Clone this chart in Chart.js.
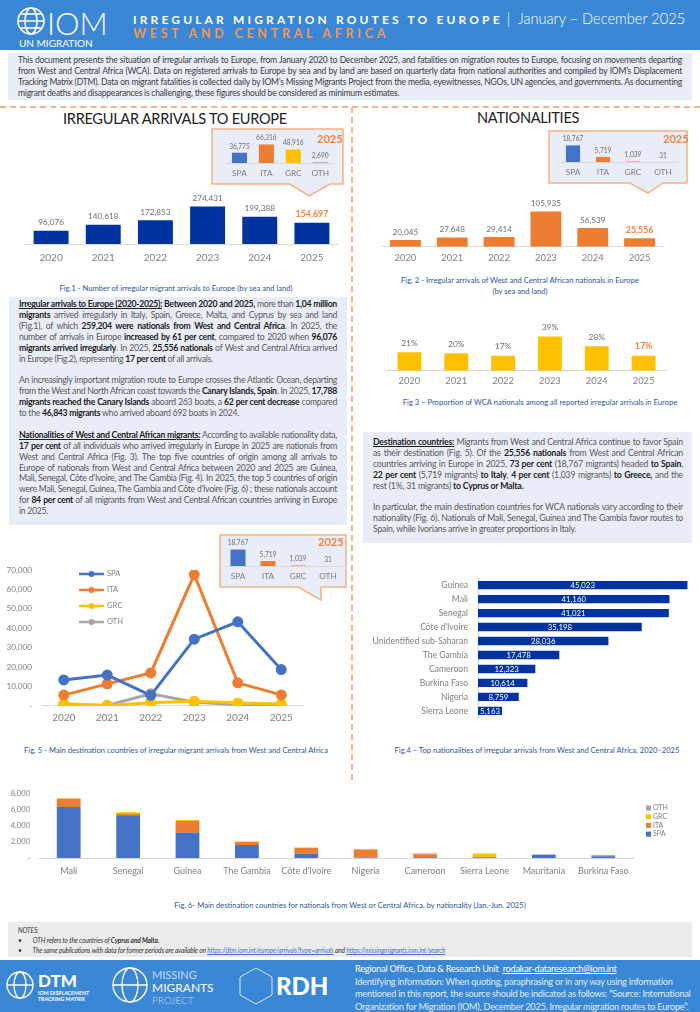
<!DOCTYPE html>
<html>
<head>
<meta charset="utf-8">
<script src="https://cdn.jsdelivr.net/npm/chart.js@4.4.1/dist/chart.umd.min.js"></script>
<style>
  body { margin:0; width:700px; height:1012px; position:relative; overflow:hidden; background:#fff; font-family:Lato, "Open Sans", sans-serif; }
  .abs { position:absolute; }
  .box { background:#e9edf7; box-sizing:border-box; color:#595959; text-align:justify; }
  .box b { color:#1e1e1e; font-weight:700; }
  .box p { margin:0; }
  .cap { color:#2f5597; font-size:7.6px; text-align:center; white-space:nowrap; }
  .sect { color:#222; font-size:14.6px; white-space:nowrap; }
  .yr { color:#f4823a; font-weight:700; font-size:11px; }
  canvas { display:block; }
</style>
</head>
<body>

<!-- header -->
<div class="abs" style="left:0;top:0;width:700px;height:50px;background:#3a87d6;"></div>
<svg class="abs" style="left:0;top:0" width="120" height="50">
  <g fill="none" stroke="#fff" stroke-width="1.6">
    <circle cx="31" cy="21" r="13"/>
    <ellipse cx="31" cy="21" rx="6" ry="13"/>
    <line x1="18" y1="21" x2="44" y2="21"/>
    <line x1="20" y1="14" x2="42" y2="14"/>
    <line x1="20" y1="28" x2="42" y2="28"/>
  </g>
  <text x="47" y="35" fill="#fff" font-size="31" font-family="Lato" font-weight="300">IOM</text>
  <text x="19" y="47" fill="#fff" font-size="10" font-family="Lato">UN MIGRATION</text>
</svg>
<div class="abs" style="left:133px;top:10px;color:#fff;font-weight:700;font-size:12px;letter-spacing:3.15px;white-space:nowrap;">IRREGULAR MIGRATION ROUTES TO EUROPE<span style="font-weight:300;letter-spacing:0;font-size:14.6px;"> | &nbsp;January – December 2025</span></div>
<div class="abs" style="left:133px;top:26px;color:#f5964f;font-weight:700;font-size:12.4px;letter-spacing:3.8px;white-space:nowrap;">WEST AND CENTRAL AFRICA</div>

<!-- intro -->
<div class="abs box" style="left:8px;top:53px;width:684px;height:47px;padding:2px 10px;font-size:8.55px;line-height:11px;letter-spacing:-0.22px;color:#404040;">This document presents the situation of irregular arrivals to Europe, from January 2020 to December 2025, and fatalities on migration routes to Europe, focusing on movements departing from West and Central Africa (WCA). Data on registered arrivals to Europe by sea and by land are based on quarterly data from national authorities and compiled by IOM’s Displacement Tracking Matrix (DTM). Data on migrant fatalities is collected daily by IOM’s Missing Migrants Project from the media, eyewitnesses, NGOs, UN agencies, and governments. As documenting migrant deaths and disappearances is challenging, these figures should be considered as minimum estimates.</div>

<!-- dashed separators -->
<div class="abs" style="left:0;top:106px;width:700px;border-top:2px dashed #f6b48a;"></div>
<div class="abs" style="left:351px;top:107px;height:673px;border-left:2px dashed #f6b48a;"></div>

<!-- section titles -->
<div class="abs sect" style="left:63px;top:110px;letter-spacing:-0.3px;">IRREGULAR ARRIVALS TO EUROPE</div>
<div class="abs sect" style="left:477px;top:109px;letter-spacing:-0.3px;">NATIONALITIES</div>

<!-- callout boxes -->
<svg class="abs" style="left:0;top:0;z-index:1" width="700" height="620">
  <g fill="#e8edf8" stroke="#f4b183" stroke-width="1.5">
    <path d="M212 129 H343 V184 H330 L309 196 L290 184 H212 Z"/>
    <path d="M549 131 H687 V183 H663 L648 193 L630 183 H549 Z"/>
    <path d="M220 535 H346 V587 H321 V600 L298 587 H220 Z"/>
  </g>
</svg>
<div class="abs yr" style="left:317px;top:132px;z-index:3">2025</div>
<div class="abs yr" style="left:663px;top:132px;z-index:3">2025</div>
<div class="abs yr" style="left:318px;top:535px;z-index:3">2025</div>

<!-- chart containers -->
<div class="abs" style="left:25px;top:180px;width:313px;height:92px;"><canvas id="fig1"></canvas></div>
<div class="abs" style="left:226px;top:128px;width:108px;height:55px;z-index:2"><canvas id="fig1in"></canvas></div>
<div class="abs cap" style="left:0;top:283px;width:352px;">Fig.1 - Number of irregular migrant arrivals to Europe (by sea and land)</div>

<div class="abs" style="left:382px;top:188px;width:281px;height:82px;"><canvas id="fig2"></canvas></div>
<div class="abs" style="left:558px;top:129px;width:120px;height:53px;z-index:2"><canvas id="fig2in"></canvas></div>
<div class="abs cap" style="left:352px;top:275px;width:336px;line-height:11px;">Fig. 2 - Irregular arrivals of West and Central African nationals in Europe<br>(by sea and land)</div>

<div class="abs" style="left:386px;top:308px;width:281px;height:84px;"><canvas id="fig3"></canvas></div>
<div class="abs cap" style="left:352px;top:397px;width:376px;">Fig 3 – Proportion of WCA nationals among all reported irregular arrivals in Europe</div>

<!-- left text -->
<div class="abs box" style="left:9px;top:297px;width:338px;height:228px;padding:2px 10px 0 10px;font-size:8.7px;line-height:10.9px;letter-spacing:-0.3px;">
<p><b><u>Irregular arrivals to Europe (2020-2025):</u> Between 2020 and 2025,</b> more than <b>1,04 million migrants</b> arrived irregularly in Italy, Spain, Greece, Malta, and Cyprus by sea and land (Fig.1), of which <b>259,204 were nationals from West and Central Africa</b>. In 2025, the number of arrivals in Europe <b>increased by 61 per cent</b>, compared to 2020 when <b>96,076 migrants arrived irregularly</b>. In 2025, <b>25,556 nationals</b> of West and Central Africa arrived in Europe (Fig.2), representing <b>17 per cent</b> of all arrivals.</p>
<p style="margin-top:10.9px">An increasingly important migration route to Europe crosses the Atlantic Ocean, departing from the West and North African coast towards the <b>Canary Islands, Spain</b>. In 2025, <b>17,788 migrants reached the Canary Islands</b> aboard 263 boats, a <b>62 per cent decrease</b> compared to the <b>46,843 migrants</b> who arrived aboard 692 boats in 2024.</p>
<p style="margin-top:10.9px"><b><u>Nationalities of West and Central African migrants:</u></b> According to available nationality data, <b>17 per cent</b> of all individuals who arrived irregularly in Europe in 2025 are nationals from West and Central Africa (Fig. 3). The top five countries of origin among all arrivals to Europe of nationals from West and Central Africa between 2020 and 2025 are Guinea, Mali, Senegal, Côte d’Ivoire, and The Gambia (Fig. 4). In 2025, the top 5 countries of origin were Mali, Senegal, Guinea, The Gambia and Côte d’Ivoire (Fig. 6) ; these nationals account for <b>84 per cent</b> of all migrants from West and Central African countries arriving in Europe in 2025.</p>
</div>

<!-- right text -->
<div class="abs box" style="left:363px;top:432px;width:329px;height:111px;padding:5px 9px 0 10px;font-size:8.7px;line-height:10.9px;letter-spacing:-0.2px;">
<p><b><u>Destination countries:</u></b> Migrants from West and Central Africa continue to favor Spain as their destination (Fig. 5). Of the <b>25,556 nationals</b> from West and Central African countries arriving in Europe in 2025, <b>73 per cent</b> (18,767 migrants) headed <b>to Spain</b>, <b>22 per cent</b> (5,719 migrants) <b>to Italy</b>, <b>4 per cent</b> (1,039 migrants) <b>to Greece,</b> and the rest (1%, 31 migrants) <b>to Cyprus or Malta.</b></p>
<p style="margin-top:10.9px">In particular, the main destination countries for WCA nationals vary according to their nationality (Fig. 6). Nationals of Mali, Senegal, Guinea and The Gambia favor routes to Spain, while Ivorians arrive in greater proportions in Italy.</p>
</div>

<div class="abs" style="left:4px;top:555px;width:306px;height:175px;"><canvas id="fig5"></canvas></div>
<div class="abs" style="left:223px;top:535px;width:120px;height:50px;z-index:2"><canvas id="fig5in"></canvas></div>
<div class="abs cap" style="left:0;top:745px;width:352px;">Fig. 5 - Main destination countries of irregular migrant arrivals from West and Central Africa</div>

<div class="abs" style="left:355px;top:563px;width:337px;height:170px;"><canvas id="fig4"></canvas></div>
<div class="abs cap" style="left:352px;top:745px;width:370px;">Fig.4 – Top nationalities of irregular arrivals from West and Central Africa, 2020–2025</div>

<div class="abs" style="left:0;top:780px;width:700px;height:103px;"><canvas id="fig6"></canvas></div>
<div class="abs cap" style="left:0;top:900px;width:700px;">Fig. 6- Main destination countries for nationals from West or Central Africa, by nationality (Jan.-Jun. 2025)</div>

<!-- notes -->
<div class="abs" style="left:8px;top:922px;width:684px;height:35px;background:#ececec;font-size:6.6px;font-style:italic;color:#333;line-height:10px;padding:3px 10px;box-sizing:border-box;letter-spacing:-0.15px;">
  <div>NOTES:</div>
  <div>•&nbsp;&nbsp;&nbsp;&nbsp;&nbsp;&nbsp;&nbsp;&nbsp;OTH refers to the countries of <b>Cyprus and Malta.</b></div>
  <div>•&nbsp;&nbsp;&nbsp;&nbsp;&nbsp;&nbsp;&nbsp;&nbsp;The same publications with data for former periods are available on <u style="color:#4472c4">https://dtm.iom.int/europe/arrivals?type=arrivals</u> and <u style="color:#4472c4">https://missingmigrants.iom.int/search</u></div>
</div>

<!-- footer -->
<div class="abs" style="left:0;top:960px;width:700px;height:52px;background:#3a87d6;"></div>
<svg class="abs" style="left:0;top:960px" width="350" height="52">
  <g fill="none" stroke="#fff" stroke-width="1.4">
    <circle cx="20" cy="25" r="13"/><ellipse cx="20" cy="25" rx="6" ry="13"/><line x1="7" y1="25" x2="33" y2="25"/>
    <circle cx="130" cy="25" r="17"/><ellipse cx="130" cy="25" rx="8" ry="17"/><line x1="113" y1="25" x2="147" y2="25"/>
    <path d="M256 8 L272 17 L272 35 L256 44 L240 35 L240 17 Z" stroke-width="0.8"/>
  </g>
  <text x="38" y="27" fill="#fff" font-size="17" font-weight="900" font-family="Lato">DTM</text>
  <text x="38" y="35" fill="#fff" font-size="5.2" font-weight="700" font-family="Lato">IOM DISPLACEMENT</text>
  <text x="38" y="41" fill="#fff" font-size="5.2" font-weight="700" font-family="Lato">TRACKING MATRIX</text>
  <text x="152" y="19" fill="#c9d6f2" font-size="11" font-family="Lato">MISSING</text>
  <text x="152" y="32" fill="#fff" font-size="12" font-family="Lato">MIGRANTS</text>
  <text x="152" y="44" fill="#c9d6f2" font-size="10" font-weight="300" font-family="Lato">PROJECT</text>
  <text x="276" y="35" fill="#fff" font-size="24" font-weight="900" font-family="Lato">RDH</text>
</svg>
<div class="abs" style="left:355px;top:963px;width:342px;color:#fff;font-size:9.2px;line-height:12.6px;letter-spacing:-0.25px;">Regional Office, Data &amp; Research Unit &nbsp;<u>rodakar-dataresearch@iom.int</u><br><span style="opacity:.85">Identifying information: When quoting, paraphrasing or in any way using information mentioned in this report, the source should be indicated as follows: “Source: International Organization for Migration (IOM), December 2025. Irregular migration routes to Europe”.</span></div>

<script>
const years = ['2020', '2021', '2022', '2023', '2024', '2025'];
const arrivalsTotal = [96076, 140618, 172853, 274431, 199388, 154697];
const arrivalsWca = [20045, 27648, 29414, 105935, 56539, 25556];
const wcaShare = [21, 20, 17, 39, 28, 17];

const destCodes = ['SPA', 'ITA', 'GRC', 'OTH'];
const dest2025All = [36775, 66316, 48916, 2690];
const dest2025Wca = [18767, 5719, 1039, 31];

// Fig 5 - arrivals of WCA nationals by destination
const spaByYear = [13400, 15900, 5500, 34400, 43300, 18767];
const itaByYear = [5600, 11400, 17000, 67600, 11900, 5719];
const grcByYear = [1100, 300, 1700, 2500, 1600, 1039];
const othByYear = [600, 300, 6300, 2000, 600, 31];

const topNationalities = ['Guinea', 'Mali', 'Senegal', 'Côte d\'Ivoire', 'Unidentified sub-Saharan', 'The Gambia', 'Cameroon', 'Burkina Faso', 'Nigeria', 'Sierra Leone'];
const topNationalityValues = [45023, 41160, 41021, 35198, 28036, 17478, 12323, 10614, 8759, 5163];

// Fig 6 - 2025 by nationality and destination (estimated)
const countries2025 = ['Mali', 'Senegal', 'Guinea', 'The Gambia', 'Côte d\'Ivoire', 'Nigeria', 'Cameroon', 'Sierra Leone', 'Mauritania', 'Burkina Faso'];
const spa2025 = [6330, 5330, 3150, 1630, 560, 80, 130, 80, 430, 230];
const ita2025 = [1020, 170, 1450, 370, 700, 1000, 350, 60, 20, 120];
const grc2025 = [60, 180, 130, 60, 40, 30, 120, 440, 0, 30];
const oth2025 = [10, 10, 10, 10, 10, 0, 20, 0, 0, 0];

const colSpa = '#4472c4', colIta = '#ed7d31', colGrc = '#ffc000', colOth = '#a5a5a5';
const destColors = [colSpa, colIta, colGrc, colOth];
const grey = '#7f7f7f';
const orange = '#f4823a';

Chart.defaults.font.family = 'Lato, "Open Sans", sans-serif';
Chart.defaults.animation = false;
Chart.defaults.plugins.legend.display = false;
Chart.defaults.plugins.tooltip.enabled = false;
Chart.defaults.responsive = true;
Chart.defaults.maintainAspectRatio = false;

const fmt = v => v.toLocaleString('en-US');

// etiquetas de valor sobre las barras
function valueLabels(cfg) {
    return {
        id: 'valueLabels',
        afterDatasetsDraw(chart) {
            const ctx = chart.ctx;
            const meta = chart.getDatasetMeta(0);
            const vals = chart.data.datasets[0].data;
            ctx.save();
            ctx.textAlign = 'center';
            ctx.textBaseline = 'bottom';
            meta.data.forEach((bar, i) => {
                const hl = cfg.highlight === i;
                ctx.font = (hl ? '700 ' : '') + (hl ? cfg.size + 0.6 : cfg.size) + 'px Lato';
                ctx.fillStyle = hl ? orange : cfg.color;
                ctx.fillText(cfg.format(vals[i]), bar.x, bar.y - cfg.offset);
            });
            ctx.restore();
        }
    };
}

function barChart(id, labels, data, colors, opts) {
    return new Chart(document.getElementById(id), {
        type: 'bar',
        data: { labels, datasets: [{ data, backgroundColor: colors, categoryPercentage: 1, barPercentage: opts.bar }] },
        options: {
            layout: { padding: { top: opts.padTop, left: 0, right: 0, bottom: 0 } },
            scales: {
                x: {
                    grid: { display: false, drawTicks: false },
                    border: { color: '#d9d9d9' },
                    ticks: { color: grey, font: { size: opts.tickSize }, padding: opts.tickPad, maxRotation: 0 }
                },
                y: { display: false, min: 0, max: opts.max }
            }
        },
        plugins: [valueLabels({ size: opts.valSize, color: '#6f6f6f', offset: opts.valOffset, format: opts.format || fmt, highlight: opts.highlight })]
    });
}

// Fig 1
barChart('fig1', years, arrivalsTotal, '#0033a0', { bar: 0.67, padTop: 12, max: 380000, tickSize: 10, tickPad: 8, valSize: 8.2, valOffset: 4, highlight: 5 });
barChart('fig1in', destCodes, dest2025All, destColors, { bar: 0.56, padTop: 12, max: 82900, tickSize: 8.3, tickPad: 5, valSize: 6.6, valOffset: 3 });

// Fig 2
barChart('fig2', years, arrivalsWca, '#ed7d31', { bar: 0.66, padTop: 12, max: 141000, tickSize: 9.4, tickPad: 6, valSize: 8.2, valOffset: 4, highlight: 5 });
barChart('fig2in', destCodes, dest2025Wca, destColors, { bar: 0.47, padTop: 12, max: 23700, tickSize: 8.3, tickPad: 5, valSize: 6.6, valOffset: 3 });

// Fig 3
barChart('fig3', years, wcaShare, '#ffc000', { bar: 0.51, padTop: 12, max: 58, tickSize: 9.4, tickPad: 5, valSize: 8.4, valOffset: 5, highlight: 5, format: v => v + '%' });

// Fig 5 inset
barChart('fig5in', destCodes, dest2025Wca, destColors, { bar: 0.5, padTop: 12, max: 21730, tickSize: 8.3, tickPad: 5, valSize: 6.6, valOffset: 3 });

// Fig 5 - lineas por destino
const lineLegend = {
    id: 'lineLegend',
    afterDraw(chart) {
        const ctx = chart.ctx;
        ctx.save();
        chart.data.datasets.forEach((ds, i) => {
            const y = 19 + i * 16;
            ctx.strokeStyle = ds.borderColor;
            ctx.lineWidth = 2.5;
            ctx.beginPath(); ctx.moveTo(75, y); ctx.lineTo(100, y); ctx.stroke();
            ctx.fillStyle = ds.borderColor;
            ctx.beginPath(); ctx.arc(87.5, y, 3, 0, Math.PI * 2); ctx.fill();
            ctx.fillStyle = grey;
            ctx.font = '7.5px Lato';
            ctx.textBaseline = 'middle';
            ctx.fillText(ds.label, 103, y);
        });
        ctx.restore();
    }
};

const lineSeries = [['SPA', spaByYear, colSpa], ['ITA', itaByYear, colIta], ['GRC', grcByYear, colGrc], ['OTH', othByYear, colOth]];
new Chart(document.getElementById('fig5'), {
    type: 'line',
    data: {
        labels: years,
        datasets: lineSeries.map(([label, data, c]) => ({
            label, data, borderColor: c, backgroundColor: c, pointBackgroundColor: c,
            borderWidth: 3, pointRadius: 4, tension: 0
        }))
    },
    options: {
        layout: { padding: { top: 11, right: 0 } },
        scales: {
            x: {
                offset: true,
                grid: { display: false, drawTicks: false },
                border: { color: '#d9d9d9' },
                ticks: { color: grey, font: { size: 10 }, padding: 6 }
            },
            y: {
                min: 0, max: 70000,
                grid: { display: false, drawTicks: false },
                border: { display: false },
                afterFit: s => { s.width = 38; },
                ticks: { stepSize: 10000, color: grey, font: { size: 8.2 }, padding: 10, callback: v => v === 0 ? '-' : fmt(v) }
            }
        }
    },
    plugins: [lineLegend]
});

// Fig 4 - barras horizontales
const insideLabels = {
    id: 'insideLabels',
    afterDatasetsDraw(chart) {
        const ctx = chart.ctx;
        const meta = chart.getDatasetMeta(0);
        ctx.save();
        ctx.fillStyle = '#fff';
        ctx.font = '7.8px Lato';
        ctx.textAlign = 'center';
        ctx.textBaseline = 'middle';
        meta.data.forEach((bar, i) => {
            ctx.fillText(fmt(chart.data.datasets[0].data[i]), (bar.x + bar.base) / 2, bar.y + 0.5);
        });
        ctx.restore();
    }
};

new Chart(document.getElementById('fig4'), {
    type: 'bar',
    data: { labels: topNationalities, datasets: [{ data: topNationalityValues, backgroundColor: '#0033a0', categoryPercentage: 1, barPercentage: 0.6 }] },
    options: {
        indexAxis: 'y',
        layout: { padding: 0 },
        scales: {
            x: { display: false, min: 0, max: 46000 },
            y: {
                grid: { display: false, drawTicks: false },
                border: { color: '#d9d9d9' },
                afterFit: s => { s.width = 123; },
                ticks: { color: grey, font: { size: 8.6 }, padding: 10 }
            }
        }
    },
    plugins: [insideLabels]
});

// Fig 6 - apiladas
const stackLegend = {
    id: 'stackLegend',
    afterDraw(chart) {
        const ctx = chart.ctx;
        ctx.save();
        ctx.font = '7px Lato';
        ctx.textBaseline = 'middle';
        const ds = chart.data.datasets.slice().reverse();
        ds.forEach((d, i) => {
            const y = 28 + i * 8.7;
            ctx.fillStyle = d.backgroundColor;
            ctx.fillRect(646, y - 2.5, 5, 5);
            ctx.fillStyle = grey;
            ctx.fillText(d.label, 653, y);
        });
        ctx.restore();
    }
};

const stackSeries = [['SPA', spa2025, colSpa], ['ITA', ita2025, colIta], ['GRC', grc2025, colGrc], ['OTH', oth2025, colOth]];
new Chart(document.getElementById('fig6'), {
    type: 'bar',
    data: {
        labels: countries2025,
        datasets: stackSeries.map(([label, data, c]) => ({ label, data, backgroundColor: c, categoryPercentage: 1, barPercentage: 0.4 }))
    },
    options: {
        layout: { padding: { top: 7, right: 67 } },
        scales: {
            x: {
                stacked: true,
                grid: { display: false, drawTicks: false },
                border: { color: '#d9d9d9' },
                ticks: { color: grey, font: { size: 9 }, padding: 7, maxRotation: 0 }
            },
            y: {
                stacked: true, min: 0, max: 8000,
                grid: { display: false, drawTicks: false },
                border: { display: false },
                afterFit: s => { s.width = 39; },
                ticks: { stepSize: 2000, color: grey, font: { size: 7.6 }, padding: 9, callback: v => v === 0 ? '-' : fmt(v) }
            }
        }
    },
    plugins: [stackLegend]
});
</script>
</body>
</html>
